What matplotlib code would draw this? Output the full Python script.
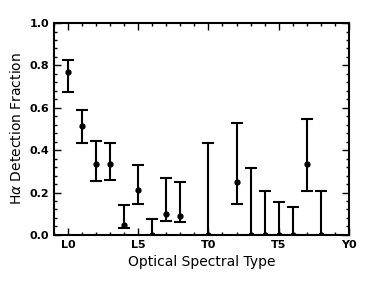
import numpy as np
import matplotlib
matplotlib.use("Agg")
from matplotlib import pyplot as plt
from matplotlib.ticker import MultipleLocator, AutoMinorLocator

# spectral type index: 0 = L0, 10 = T0, 20 = Y0
spt = [0, 1, 2, 3, 4, 5, 6, 7, 8, 10, 12, 13, 14, 15, 16, 17, 18]
frac = [0.768, 0.514, 0.336, 0.336, 0.049, 0.211, 0.0, 0.100, 0.091,
        0.0, 0.25, 0.0, 0.0, 0.0, 0.0, 0.336, 0.0]
lo = [0.674, 0.434, 0.254, 0.257, 0.031, 0.148, 0.0, 0.068, 0.060,
      0.0, 0.148, 0.0, 0.0, 0.0, 0.0, 0.206, 0.0]
hi = [0.826, 0.591, 0.441, 0.434, 0.142, 0.331, 0.076, 0.270, 0.250,
      0.435, 0.527, 0.318, 0.206, 0.153, 0.134, 0.549, 0.206]
tick_pos = [0, 5, 10, 15, 20]
tick_lab = ["L0", "L5", "T0", "T5", "Y0"]

frac = np.array(frac)
yerr = [frac - np.array(lo), np.array(hi) - frac]

fig = plt.figure(figsize=(3.74, 2.81), dpi=100)
ax = fig.add_axes([0.144, 0.164, 0.789, 0.754])
ax.errorbar(spt, frac, yerr=yerr, fmt='o', color='k', ms=3.5,
            elinewidth=1.5, capsize=4, capthick=1.5)

ax.set_xlim(-1, 20)
ax.set_ylim(0, 1.0)
ax.set_xticks(tick_pos)
ax.set_xticklabels(tick_lab)
ax.xaxis.set_minor_locator(MultipleLocator(1))
ax.yaxis.set_major_locator(MultipleLocator(0.2))
ax.yaxis.set_minor_locator(AutoMinorLocator(5))
ax.tick_params(which='both', direction='in', top=True, right=True, width=1)
ax.tick_params(which='major', length=5)
ax.tick_params(which='minor', length=2.5)
ax.tick_params(labelsize=8)
for lab in ax.get_xticklabels() + ax.get_yticklabels():
    lab.set_fontweight('bold')
for s in ax.spines.values():
    s.set_linewidth(1.5)

ax.set_xlabel("Optical Spectral Type", fontsize=10)
ax.set_ylabel(r"H$\alpha$ Detection Fraction", fontsize=10)

fig.savefig("out.png", dpi=100)
